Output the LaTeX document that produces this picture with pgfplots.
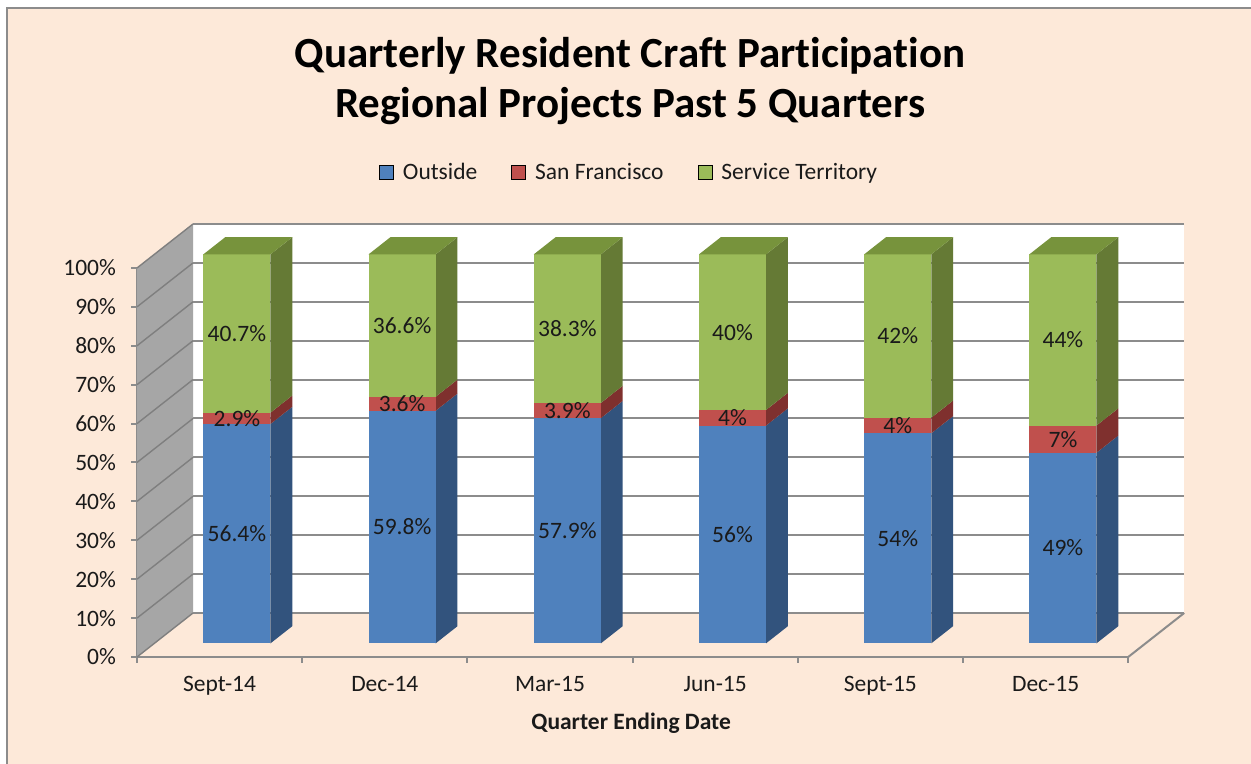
\documentclass[border=0pt]{standalone}
\usepackage{fontspec}
\setmainfont{Carlito}[Ligatures=NoCommon]
\usepackage{pgfplots}
\pgfplotsset{compat=1.18}
\definecolor{bg}{HTML}{FDE9D9}
\definecolor{blueF}{HTML}{4F81BD}
\definecolor{blueS}{HTML}{32537D}
\definecolor{redF}{HTML}{C0504D}
\definecolor{redS}{HTML}{7F302E}
\definecolor{greenF}{HTML}{9BBB59}
\definecolor{greenS}{HTML}{657A35}
\definecolor{greenT}{HTML}{77933C}
\definecolor{gridc}{HTML}{8C8C8C}
\definecolor{wallc}{HTML}{A6A6A6}
\definecolor{wallg}{HTML}{7F7F7F}
\definecolor{txt}{HTML}{1A1A1A}
\newcommand{\normfont}{\fontsize{11.75pt}{14pt}\selectfont}
\pgfplotsset{lbl/.style={nodes near coords, point meta=explicit symbolic,
  every node near coord/.style={anchor=center, font=\normfont, text=txt, inner sep=0pt}}}
% one segment of a bar: #1 index, #2 low, #3 high, #4 front colour, #5 side colour
\newcommand{\barseg}[5]{%
  \pgfmathsetmacro\xl{#1+0.402}%
  \pgfmathsetmacro\xr{#1+0.808}%
  \pgfmathsetmacro\xs{#1+0.940}%
  \pgfmathsetmacro\ya{#2+3.51}%
  \pgfmathsetmacro\yb{#3+3.51}%
  \pgfmathsetmacro\yc{#2+7.92}%
  \pgfmathsetmacro\yd{#3+7.92}%
  \edef\temp{\noexpand\addplot[fill=#5, draw=none, forget plot] coordinates {(\xr,\ya) (\xs,\yc) (\xs,\yd) (\xr,\yb)};
    \noexpand\addplot[fill=#4, draw=none, forget plot] coordinates {(\xl,\ya) (\xr,\ya) (\xr,\yb) (\xl,\yb)};}%
  \temp}
% whole bar: #1 index, #2 Outside, #3 San Francisco, #4 Service Territory
\newcommand{\stackbar}[4]{%
  \pgfmathsetmacro\sA{#2}%
  \pgfmathsetmacro\sB{#2+#3}%
  \barseg{#1}{0}{\sA}{blueF}{blueS}%
  \barseg{#1}{\sA}{\sB}{redF}{redS}%
  \barseg{#1}{\sB}{100}{greenF}{greenS}%
  \pgfmathsetmacro\xl{#1+0.402}%
  \pgfmathsetmacro\xr{#1+0.808}%
  \pgfmathsetmacro\xs{#1+0.940}%
  \pgfmathsetmacro\xt{#1+0.534}%
  \edef\temp{\noexpand\addplot[fill=greenT, draw=none, forget plot] coordinates {(\xl,103.51) (\xr,103.51) (\xs,107.92) (\xt,107.92)};}%
  \temp
  \pgfmathsetmacro\lx{#1+0.605}%
  \pgfmathsetmacro\lA{#2/2+3.51}%
  \pgfmathsetmacro\lB{#2+#3/2+3.51}%
  \pgfmathsetmacro\lC{(#2+#3+100)/2+3.51}%
  \edef\temp{\noexpand\addplot[draw=none, forget plot, lbl] coordinates {(\lx,\lA) [#2\noexpand\%] (\lx,\lB) [#3\noexpand\%] (\lx,\lC) [#4\noexpand\%]};}%
  \temp}
\begin{document}
\begin{tikzpicture}
\useasboundingbox (0,0) rectangle (625.5pt,382pt);
\fill[white] (0,0) rectangle (625.5pt,382pt);
\fill[bg] (3pt,0) rectangle (625.5pt,378.5pt);
\draw[gridc, line width=1pt] (3.5pt,0) -- (3.5pt,378pt) -- (625.5pt,378pt);
\begin{axis}[
  at={(68.5pt,53.5pt)}, anchor=south west,
  scale only axis, width=495.6pt, height=194.5pt,
  xmin=0, xmax=6, ymin=0, ymax=100, clip=false,
  axis lines*=left,
  axis line style={gridc, line width=1pt},
  tick style={gridc, line width=1pt},
  tick align=outside, major tick length=3pt,
  xtick={0,1,2,3,4,5,6}, x tick label as interval,
  xticklabels={Sept-14,Dec-14,Mar-15,Jun-15,Sept-15,Dec-15},
  ytick={0,10,20,30,40,50,60,70,80,90,100},
  yticklabels={0\%,10\%,20\%,30\%,40\%,50\%,60\%,70\%,80\%,90\%,100\%},
  ticklabel style={font=\normfont, text=txt},
  xticklabel style={yshift=-3pt},
  yticklabel style={xshift=-4pt},
  xlabel={Quarter Ending Date},
  xlabel style={at={(axis description cs:0.4985,-0.1697)}, anchor=center, font=\normfont\bfseries, text=txt},
  title={Quarterly Resident Craft Participation\\Regional Projects Past 5 Quarters},
  title style={at={(axis description cs:0.4975,1.45)}, anchor=center, align=center,
    font=\fontsize{21.5pt}{25pt}\selectfont\bfseries, text=black},
  legend columns=3,
  legend style={at={(axis description cs:0.4975,1.245)}, anchor=center, draw=none, fill=none,
    font=\normfont, text=txt, inner sep=0pt,
    /tikz/every even column/.append style={column sep=15pt}},
  legend image code/.code={\fill[#1] (0pt,-3.5pt) rectangle (7pt,3.5pt); \path (9.5pt,0pt);},
]
% back wall
\addplot[fill=white, draw=none, forget plot] coordinates {(0.339,11.31) (6.339,11.31) (6.339,111.31) (0.339,111.31)};
\pgfplotsinvokeforeach{0,10,...,100}{
  \addplot[gridc, line width=1pt, forget plot] coordinates {(0.339,#1+11.31) (6.339,#1+11.31)};
}
% left wall
\addplot[fill=wallc, draw=none, forget plot] coordinates {(0,0) (0.339,11.31) (0.339,111.31) (0,100)};
\pgfplotsinvokeforeach{0,10,...,100}{
  \addplot[wallg, line width=0.7pt, forget plot] coordinates {(0,#1) (0.339,#1+11.31)};
}
% floor right edge
\addplot[gridc, line width=1pt, forget plot] coordinates {(6,0) (6.339,11.31)};
% bars
\stackbar{0}{56.4}{2.9}{40.7}
\stackbar{1}{59.8}{3.6}{36.6}
\stackbar{2}{57.9}{3.9}{38.3}
\stackbar{3}{56}{4}{40}
\stackbar{4}{54}{4}{42}
\stackbar{5}{49}{7}{44}
\addlegendimage{fill=blueF}
\addlegendentry{Outside}
\addlegendimage{fill=redF}
\addlegendentry{San Francisco}
\addlegendimage{fill=greenF}
\addlegendentry{Service Territory}
\end{axis}
\end{tikzpicture}
\end{document}
